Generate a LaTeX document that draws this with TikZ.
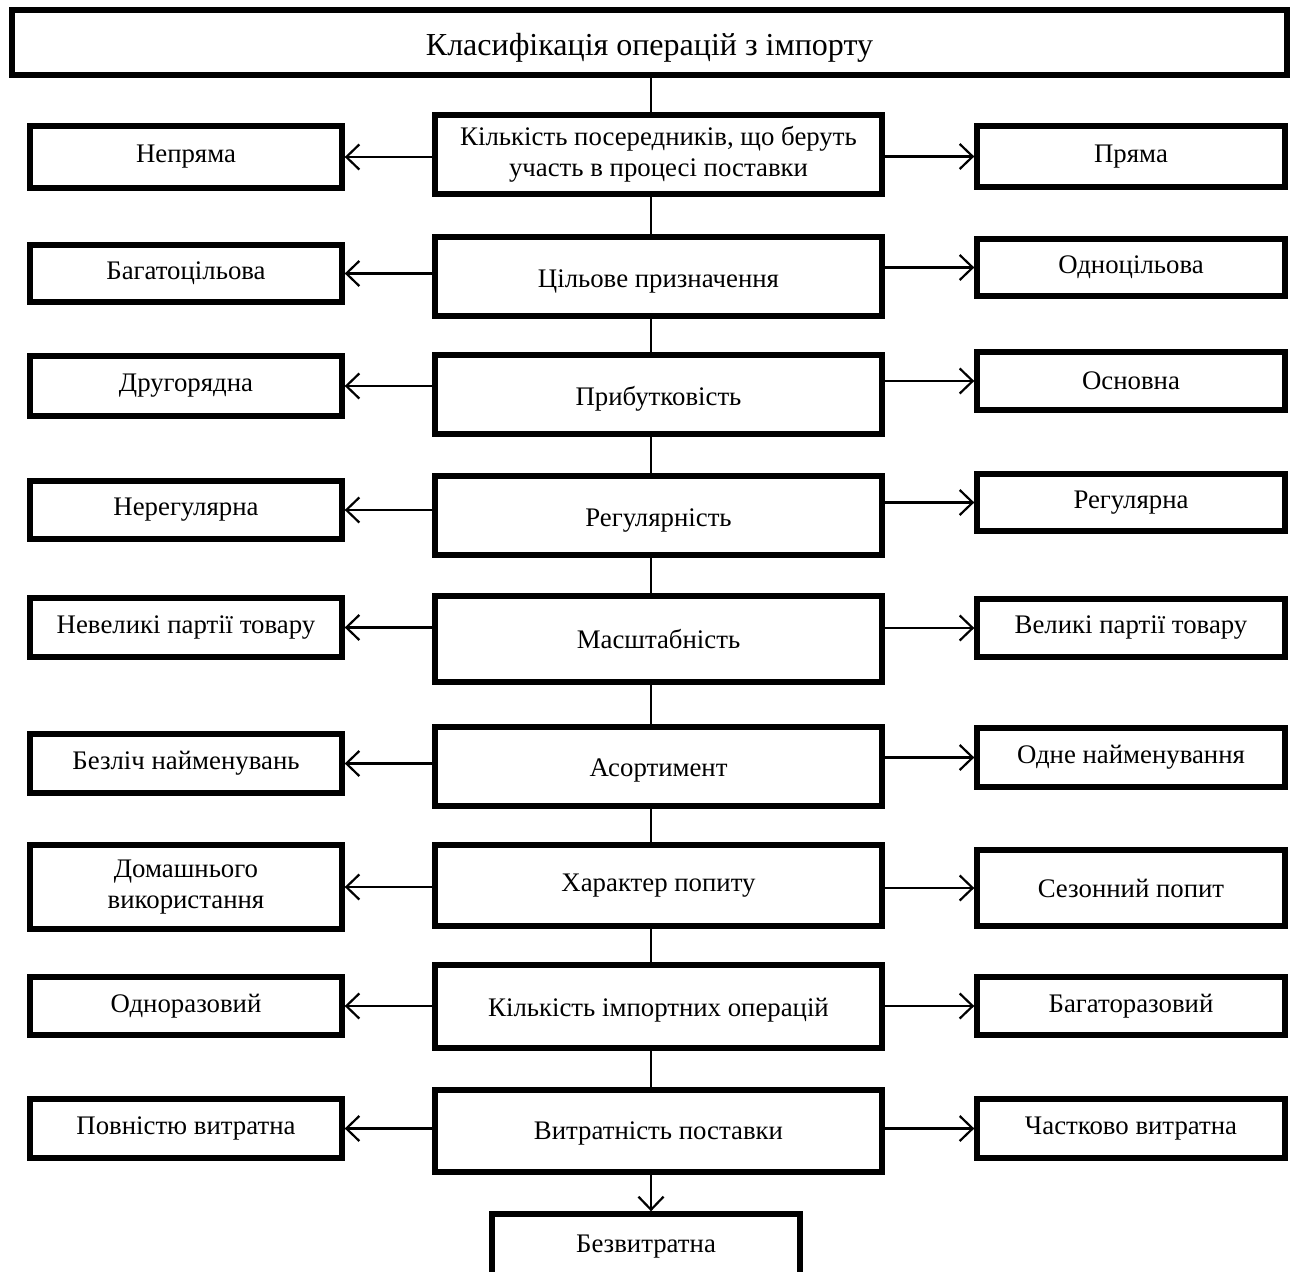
\documentclass[tikz,border=0pt]{standalone}
\usepackage{fontspec}
\setmainfont{Liberation Serif}
\usetikzlibrary{arrows.meta}
\newcommand\bx[6]{\node[box, minimum width={(#4-#2)*0.5pt}, minimum height={(#5-#3)*0.5pt}] (#1) at ({(#2+#4)/2},{(#3+#5)/2}) {#6};}
\newcommand\lowr[2]{\raisebox{-#1}[\height][\depth]{#2}}
\begin{document}
\begin{tikzpicture}[x=0.5pt,y=-0.5pt,
  box/.style={draw, line width=2.7pt, inner sep=0pt, align=center, font=\fontsize{13.4}{15.5}\selectfont},
  conn/.style={line width=1.1pt},
  arr/.style={conn, -{Straight Barb[length=6.5pt,width=12.5pt,line width=1.1pt]}}]
\useasboundingbox[fill=white] (0,0) rectangle (1299,1272);
\coordinate (spine) at (651,0);
\bx{top}{12}{10}{1287}{75}{\lowr{2.5pt}{\fontsize{16}{19}\selectfont Класифікація операцій з імпорту}}
% central
\bx{c1}{435}{115}{882}{194}{Кількість посередників, що беруть\\участь в процесі поставки}
\bx{c2}{435}{237}{882}{316}{\lowr{2.5pt}{Цільове призначення}}
\bx{c3}{435}{355}{882}{434}{\lowr{2pt}{Прибутковість}}
\bx{c4}{435}{476}{882}{555}{\lowr{2.5pt}{Регулярність}}
\bx{c5}{435}{596}{882}{682}{Масштабність}
\bx{c6}{435}{727}{882}{806}{\lowr{2pt}{Асортимент}}
\bx{c7}{435}{845}{882}{926}{Характер попиту}
\bx{c8}{435}{965}{882}{1048}{\lowr{2pt}{Кількість імпортних операцій}}
\bx{c9}{435}{1090}{882}{1172}{\lowr{1pt}{Витратність поставки}}
% left
\bx{l1}{30}{126}{342}{188}{Непряма}
\bx{l2}{30}{245}{342}{302}{Багатоцільова}
\bx{l3}{30}{356}{342}{416}{Другорядна}
\bx{l4}{30}{481}{342}{539}{Нерегулярна}
\bx{l5}{30}{598}{342}{657}{Невеликі партії товару}
\bx{l6}{30}{734}{342}{793}{Безліч найменувань}
\bx{l7}{30}{845}{342}{929}{Домашнього\\використання}
\bx{l8}{30}{977}{342}{1035}{Одноразовий}
\bx{l9}{30}{1099}{342}{1158}{Повністю витратна}
% right
\bx{r1}{977}{126}{1285}{187}{Пряма}
\bx{r2}{977}{239}{1285}{296}{Одноцільова}
\bx{r3}{977}{352}{1285}{410}{Основна}
\bx{r4}{977}{474}{1285}{531}{Регулярна}
\bx{r5}{977}{599}{1285}{657}{Великі партії товару}
\bx{r6}{977}{728}{1285}{787}{Одне найменування}
\bx{r7}{977}{850}{1285}{926}{Сезонний попит}
\bx{r8}{977}{977}{1285}{1035}{Багаторазовий}
\bx{r9}{977}{1099}{1285}{1158}{Частково витратна}
% bottom
\bx{b}{492}{1214}{800}{1280}{Безвитратна}
% spine
\draw[conn] (top.south -| spine) -- (c1.north -| spine);
\foreach \a/\b in {c1/c2,c2/c3,c3/c4,c4/c5,c5/c6,c6/c7,c7/c8,c8/c9}
  \draw[conn] (\a.south -| spine) -- (\b.north -| spine);
\draw[arr] (c9.south -| spine) -- (b.north -| spine);
% sides
\foreach \i in {1,...,9}{
  \draw[arr] (c\i.west |- l\i.east) -- (l\i.east);
  \draw[arr] (c\i.east |- r\i.west) -- (r\i.west);
}
\end{tikzpicture}
\end{document}
